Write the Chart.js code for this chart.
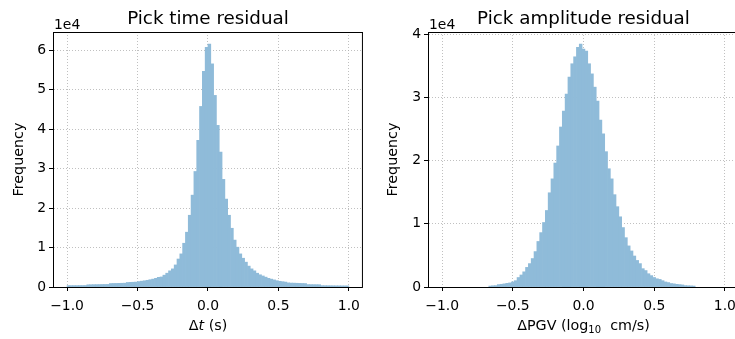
<!DOCTYPE html>
<html>
<head>
<meta charset="utf-8">
<script src="https://cdn.jsdelivr.net/npm/chart.js@4.4.0/dist/chart.umd.min.js"></script>
<style>
  html, body { margin: 0; padding: 0; background: #fff; overflow: hidden; width: 735px; height: 339px; }
  canvas { position: absolute; top: 0; }
  #time-hist { left: 0; }
  #amp-hist { left: 367px; }
</style>
</head>
<body>
<canvas id="time-hist" width="367" height="339"></canvas>
<canvas id="amp-hist" width="380" height="339"></canvas>
<script>
// pick time residual: 100 bins of 0.02 s between -1 and 1
const timeBinStart = -1.0;
const timeBinWidth = 0.02;
const timeCounts = [
  350, 350, 360, 360, 370, 370, 380,
  560, 580, 600, 610, 620, 640, 650, 660,
  880, 900, 910, 930, 950, 970,
  1150, 1180, 1210, 1250,
  1380, 1480, 1580, 1700, 1850, 2000, 2200, 2450,
  2550, 3000, 3500, 4100, 4600, 5600, 7100, 8400, 11100, 13900, 18200, 23300, 29300, 37200, 45800, 54700, 60800,
  61600, 56600, 48600, 41000, 34200, 27300, 22300, 18200, 14900, 11900, 10100, 8400, 7300, 6300, 5300, 4600, 4100, 3500,
  3100, 2800, 2500, 2200, 2000, 1800, 1600, 1450, 1350, 1250,
  1050, 1000, 980, 950, 920, 900, 880,
  620, 610, 600, 590, 580,
  350, 340, 330, 320, 310, 300, 300, 290, 280, 280,
];

// pick amplitude residual: bins of 0.02 starting at -0.67
const ampBinStart = -0.67;
const ampBinWidth = 0.02;
const ampCounts = [
  150, 200, 220, 380, 430, 500, 580, 650, 800, 1000,
  1500, 1900, 2400, 3100, 3700, 4500, 5600, 7200, 8600, 10200,
  12100, 14900, 17100, 19600, 22300, 25300, 27800, 30500, 33200, 35300,
  36400, 37900, 38400, 37600, 37300, 35300, 33700, 31600, 29400, 26400,
  24200, 21400, 18700, 17100, 14600, 12700, 11100, 9400, 7800, 6500,
  5700, 4900, 4200, 3700, 2900, 2600, 2100, 1800, 1500, 1300,
  1200, 1000, 800, 700, 550, 500, 420, 380, 330, 220,
  200, 180, 150,
];

const xTicks = [-1.0, -0.5, 0.0, 0.5, 1.0];
const timeYTicks = [0, 10000, 20000, 30000, 40000, 50000, 60000];
const ampYTicks = [0, 10000, 20000, 30000, 40000];

const FONT = '"DejaVu Sans", sans-serif';
const LABEL_SIZE = 14.3;
Chart.defaults.font.family = FONT;
Chart.defaults.font.size = 13.9;
Chart.defaults.color = '#000';

// titles, axis labels, offset text and the top/right spines
const mplLabels = {
  id: 'mplLabels',
  afterDraw(chart, args, o) {
    const { ctx, chartArea: a } = chart;
    const cx = (a.left + a.right) / 2;
    ctx.save();
    ctx.strokeStyle = '#000';
    ctx.lineWidth = 1;
    ctx.beginPath();
    ctx.moveTo(a.left, a.top + 0.5);
    ctx.lineTo(a.right, a.top + 0.5);
    ctx.moveTo(a.right - 0.5, a.top);
    ctx.lineTo(a.right - 0.5, a.bottom);
    ctx.stroke();

    ctx.fillStyle = '#000';
    ctx.textBaseline = 'alphabetic';
    ctx.font = '18.3px ' + FONT;
    ctx.textAlign = 'center';
    ctx.fillText(o.title, cx, 23.5);

    ctx.font = '13.9px ' + FONT;
    ctx.textAlign = 'left';
    ctx.fillText('1e4', a.left + 1, 28.5);

    ctx.save();
    ctx.font = LABEL_SIZE + 'px ' + FONT;
    ctx.translate(o.ylabelX, (a.top + a.bottom) / 2);
    ctx.rotate(-Math.PI / 2);
    ctx.textAlign = 'center';
    ctx.textBaseline = 'middle';
    ctx.fillText('Frequency', 0, 0);
    ctx.restore();

    // x label built from pieces (italic t, subscript 10)
    ctx.textAlign = 'left';
    let total = 0;
    o.xlabel.forEach(p => {
      ctx.font = (p.style || '') + ' ' + (p.size || LABEL_SIZE) + 'px ' + FONT;
      p.w = ctx.measureText(p.text).width;
      total += p.w;
    });
    let x = cx - total / 2;
    o.xlabel.forEach(p => {
      ctx.font = (p.style || '') + ' ' + (p.size || LABEL_SIZE) + 'px ' + FONT;
      ctx.fillText(p.text, x, 329.5 + (p.dy || 0));
      x += p.w;
    });
    ctx.restore();
  },
};

const fmtX = v => (v < 0 ? '\u2212' : '') + Math.abs(v).toFixed(1);

const makeHist = (id, binStart, binWidth, counts, yTicks, opt) => {
  const points = counts.map((c, i) => ({ x: binStart + (i + 0.5) * binWidth, y: c }));
  const ctx = document.querySelector(id).getContext('2d');
  return new Chart(ctx, {
    type: 'bar',
    data: {
      datasets: [{
        data: points,
        backgroundColor: 'rgb(143, 187, 217)',
        borderWidth: 0,
        barPercentage: 1,
        categoryPercentage: 1,
        grouped: false,
      }],
    },
    plugins: [mplLabels],
    options: {
      responsive: false,
      animation: false,
      layout: { padding: { left: 0, right: opt.padRight, top: 32, bottom: 0 } },
      plugins: {
        legend: { display: false },
        tooltip: { enabled: false },
        mplLabels: { title: opt.title, ylabelX: opt.ylabelX, xlabel: opt.xlabel },
      },
      scales: {
        x: {
          type: 'linear',
          min: -1.1,
          max: 1.1,
          offset: false,
          afterBuildTicks: s => { s.ticks = xTicks.map(v => ({ value: v })); },
          afterFit: s => { s.height = 52; },
          grid: {
            offset: false,
            color: '#b0b0b0',
            lineWidth: 0.8,
            tickLength: 4,
            tickColor: '#000',
            tickWidth: 1,
            tickBorderDash: [],
          },
          border: { display: true, color: '#000', width: 1, dash: [1, 2] },
          ticks: { padding: 7, maxRotation: 0, autoSkip: false, callback: fmtX },
        },
        y: {
          min: 0,
          max: Math.max(...counts) * 1.05,
          afterBuildTicks: s => { s.ticks = yTicks.map(v => ({ value: v })); },
          afterFit: s => { s.width = opt.yWidth; },
          grid: {
            color: '#b0b0b0',
            lineWidth: 0.8,
            tickLength: 4,
            tickColor: '#000',
            tickWidth: 1,
            tickBorderDash: [],
          },
          border: { display: true, color: '#000', width: 1, dash: [1, 2] },
          ticks: { padding: 3, autoSkip: false, callback: v => String(v / 10000) },
        },
      },
    },
  });
};

makeHist('#time-hist', timeBinStart, timeBinWidth, timeCounts, timeYTicks, {
  title: 'Pick time residual',
  yWidth: 53,
  padRight: 2,
  ylabelX: 19,
  xlabel: [{ text: '\u0394' }, { text: 't', style: 'oblique' }, { text: ' (s)' }],
});

makeHist('#amp-hist', ampBinStart, ampBinWidth, ampCounts, ampYTicks, {
  title: 'Pick amplitude residual',
  yWidth: 61,
  padRight: 8,
  ylabelX: 26,
  xlabel: [{ text: '\u0394PGV (log' }, { text: '10', size: 10, dy: 3 }, { text: '  cm/s)' }],
});
</script>
</body>
</html>
